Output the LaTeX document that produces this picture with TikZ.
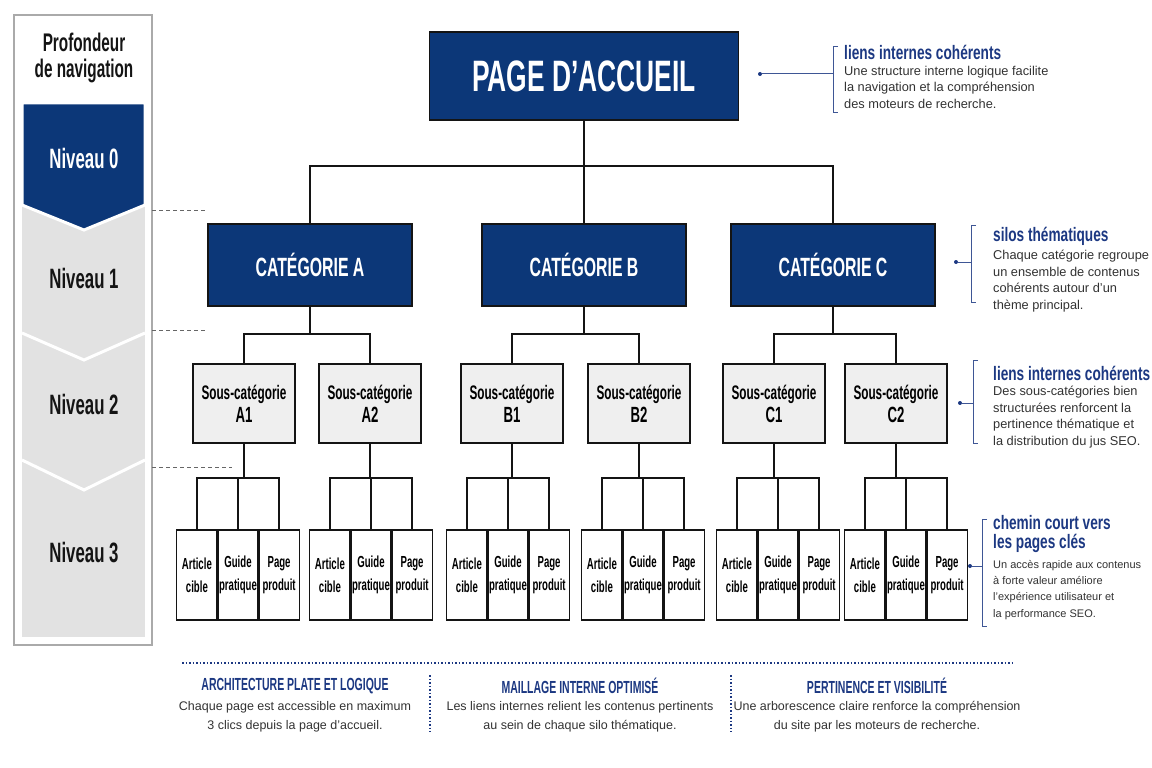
\documentclass[tikz,border=0pt]{standalone}
\usepackage{fontspec}
\setmainfont{Liberation Sans}
\newfontfamily\condfont{Liberation Sans}[FakeStretch=0.6]
\newfontfamily\titlefont{Liberation Sans}[FakeStretch=0.7]
\usepackage{tikz}
\usetikzlibrary{positioning}
\definecolor{DeepNavy}{RGB}{12,55,120}
\definecolor{InkNavy}{RGB}{28,56,130}
\definecolor{PanelGray}{RGB}{226,226,226}
\definecolor{SubGray}{RGB}{239,239,239}
\definecolor{FrameGray}{RGB}{170,170,170}
\definecolor{BodyGray}{RGB}{50,50,50}
\definecolor{LineInk}{RGB}{20,20,20}

\begin{document}
\begin{tikzpicture}[
        x=1pt, y=-1pt,
        home/.style={rectangle, draw=LineInk, line width=1.5pt, fill=DeepNavy, text=white,
                     minimum width=309pt, minimum height=88pt,
                     font=\condfont\bfseries\fontsize{44}{46}\selectfont},
        cat/.style={rectangle, draw=LineInk, line width=1.5pt, fill=DeepNavy, text=white,
                    minimum width=204pt, minimum height=82pt,
                    font=\condfont\bfseries\fontsize{26.4}{28}\selectfont},
        sub/.style={rectangle, draw=LineInk, line width=1.3pt, fill=SubGray, inner sep=0pt,
                    minimum width=102pt, minimum height=79pt, align=center,
                    font=\condfont\bfseries\fontsize{19.6}{23}\selectfont},
        leaf/.style={rectangle, draw=LineInk, line width=1.1pt, fill=white, inner sep=0pt,
                     minimum width=40pt, minimum height=90pt, align=center,
                     font=\condfont\bfseries\fontsize{16}{23}\selectfont},
        link/.style={draw=LineInk, line width=2pt},
        lvl/.style={font=\condfont\bfseries\fontsize{28}{26}\selectfont, text=LineInk},
        guide/.style={draw=black!60, line width=1pt, dash pattern=on 4pt off 3pt},
        anntitle/.style={font=\titlefont\bfseries\fontsize{19.5}{19}\selectfont, text=InkNavy,
                         anchor=west, inner sep=0pt, align=left},
        annbody/.style={font=\fontsize{12.8}{16.5}\selectfont, text=BodyGray, align=left,
                        anchor=north west, inner sep=0pt},
        annline/.style={draw=InkNavy!85, line width=1pt},
        dot/.style={circle, fill=InkNavy, inner sep=0pt, minimum size=4pt},
        foothead/.style={font=\condfont\bfseries\fontsize{17.5}{18}\selectfont, text=InkNavy},
        footbody/.style={font=\fontsize{12.5}{19}\selectfont, text=BodyGray, align=center},
        sep/.style={draw=InkNavy, line width=1.5pt, dash pattern=on 1.5pt off 2pt}
    ]
        \useasboundingbox (0,0) rectangle (1152,768);

        % depth column
        \draw[draw=FrameGray, line width=1.2pt, fill=white] (14,15) rectangle (152,645);
        \fill[PanelGray] (22,205) rectangle (145,637);
        \filldraw[fill=DeepNavy, draw=white, line width=3pt]
            (22,103) -- (145,103) -- (145,205) -- (84,230) -- (22,205) -- cycle;
        \draw[white, line width=3pt] (22,333) -- (84,360) -- (145,333);
        \draw[white, line width=3pt] (22,460) -- (84,490) -- (145,460);
        \node[lvl, align=center, inner sep=0pt, font=\condfont\bfseries\fontsize{25.5}{26}\selectfont]
            (depth) at (84,58) {Profondeur\\de navigation};
        \node[lvl, text=white] (lv0) at (84,158) {Niveau 0};
        \node[lvl] (lv1) at (84,278) {Niveau 1};
        \node[lvl] (lv2) at (84,404) {Niveau 2};
        \node[lvl] (lv3) at (84,553) {Niveau 3};
        \draw[guide] (152,210) -- (205,210);
        \draw[guide] (152,330) -- (205,330);
        \draw[guide] (152,467) -- (232,467);

        % tree
        \node[home] (home) at (584,76) {PAGE D’ACCUEIL};
        \node[cat] (catA) at (310,265) {CATÉGORIE A};
        \node[cat] (catB) at (584,265) {CATÉGORIE B};
        \node[cat] (catC) at (833,265) {CATÉGORIE C};

        \draw[link] (home.south) -- ++(0,45) coordinate (hbus);
        \draw[link] (catA.north) |- (hbus) -| (catC.north);
        \draw[link] (hbus) -- (catB.north);

        \node[sub] (a1) at (244,403.5) {Sous-catégorie\\{\fontsize{22}{23}\selectfont A1}};
        \node[sub] (a2) at (370,403.5) {Sous-catégorie\\{\fontsize{22}{23}\selectfont A2}};
        \node[sub] (b1) at (512,403.5) {Sous-catégorie\\{\fontsize{22}{23}\selectfont B1}};
        \node[sub] (b2) at (639,403.5) {Sous-catégorie\\{\fontsize{22}{23}\selectfont B2}};
        \node[sub] (c1) at (774,403.5) {Sous-catégorie\\{\fontsize{22}{23}\selectfont C1}};
        \node[sub] (c2) at (896,403.5) {Sous-catégorie\\{\fontsize{22}{23}\selectfont C2}};

        \foreach \c/\l/\r in {catA/a1/a2, catB/b1/b2, catC/c1/c2}{
            \draw[link] (\c.south) -- ++(0,27) coordinate (\c-bus);
            \draw[link] (\l.north) |- (\c-bus) -| (\r.north);
        }

        \foreach \g/\x in {a1/238, a2/371, b1/508, b2/643, c1/778, c2/906}{
            \node[leaf] (\g-2) at (\x,575) {Guide\\pratique};
            \node[leaf, left=0pt of \g-2] (\g-1) {Article\\cible};
            \node[leaf, right=0pt of \g-2] (\g-3) {Page\\produit};
            \draw[link] (\g.south) -- ++(0,34) coordinate (\g-bus);
            \draw[link] (\g-1.north) |- (\g-bus) -| (\g-3.north);
            \draw[link] (\g-2.north |- \g-bus) -- (\g-2.north);
        }

        % side notes
        \node[dot] (d1) at (760,74) {};
        \coordinate (k1) at (833,74);
        \draw[annline] (d1) -- (k1);
        \draw[annline] (838,47) -- (833,47) -- (833,112) -- (838,112);
        \node[anntitle] (t1) at (844,52) {liens internes cohérents};
        \node[annbody] (n1) at (844,66) {Une structure interne logique facilite\\la navigation et la compréhension\\des moteurs de recherche.};

        \node[dot] (d2) at (956,262) {};
        \coordinate (k2) at (971,262);
        \draw[annline] (d2) -- (k2);
        \draw[annline] (976,225) -- (971,225) -- (971,302) -- (976,302);
        \node[anntitle] (t2) at (993,236) {silos thématiques};
        \node[annbody] (n2) at (993,250) {Chaque catégorie regroupe\\un ensemble de contenus\\cohérents autour d’un\\thème principal.};

        \node[dot] (d3) at (960,403) {};
        \coordinate (k3) at (973,403);
        \draw[annline] (d3) -- (k3);
        \draw[annline] (978,360) -- (973,360) -- (973,443) -- (978,443);
        \node[anntitle] (t3) at (993,373) {liens internes cohérents};
        \node[annbody] (n3) at (993,386) {Des sous-catégories bien\\structurées renforcent la\\pertinence thématique et\\la distribution du jus SEO.};

        \node[dot] (d4) at (970,566) {};
        \coordinate (k4) at (982,566);
        \draw[annline] (d4) -- (k4);
        \draw[annline] (987,519) -- (982,519) -- (982,626) -- (987,626);
        \node[anntitle] (t4) at (993,533.5) {chemin court vers\\les pages clés};
        \node[annbody, font=\fontsize{11}{16.3}\selectfont] (n4) at (993,560)
            {Un accès rapide aux contenus\\à forte valeur améliore\\l’expérience utilisateur et\\la performance SEO.};

        % footer
        \draw[sep] (182,663) -- (1012,663);
        \draw[sep] (430,675) -- (430,732);
        \draw[sep] (731,675) -- (731,732);
        \node[foothead] (f1) at (295,686) {ARCHITECTURE PLATE ET LOGIQUE};
        \node[footbody] (g1) at (295,716.5) {Chaque page est accessible en maximum\\3 clics depuis la page d’accueil.};
        \node[foothead] (f2) at (580,686) {MAILLAGE INTERNE OPTIMISÉ};
        \node[footbody] (g2) at (580,716.5) {Les liens internes relient les contenus pertinents\\au sein de chaque silo thématique.};
        \node[foothead] (f3) at (877,686) {PERTINENCE ET VISIBILITÉ};
        \node[footbody] (g3) at (877,716.5) {Une arborescence claire renforce la compréhension\\du site par les moteurs de recherche.};
    \end{tikzpicture}
\end{document}
